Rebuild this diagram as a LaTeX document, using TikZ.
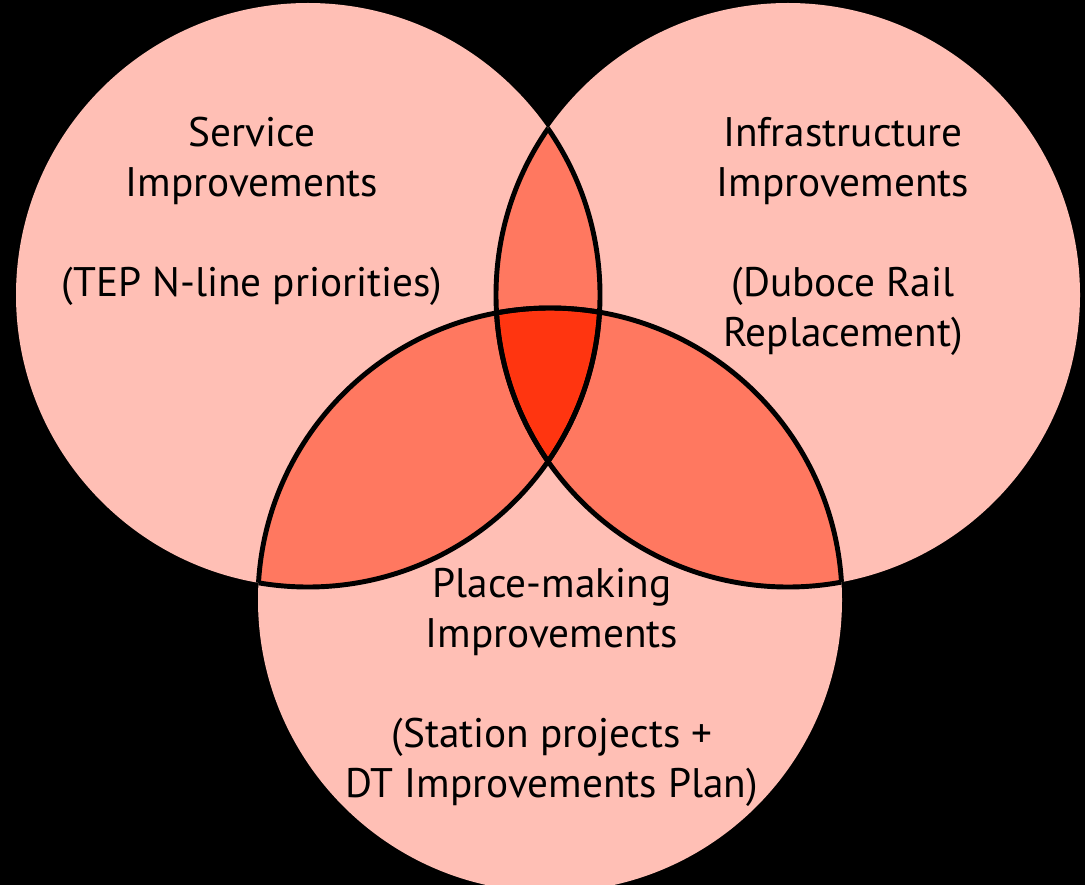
\documentclass[tikz,border=0pt]{standalone}
\usepackage{fontspec}
\setmainfont{PT Sans}
\usetikzlibrary{calc}
\definecolor{vennpink}{HTML}{FFBFB5}
\definecolor{vennpair}{HTML}{FF7860}
\definecolor{venntriple}{HTML}{FF3510}
\tikzstyle{venntext} = [align=center,text=black,inner sep=0pt,font=\fontsize{23.5}{28.45}\selectfont]
\tikzstyle{lensline} = [draw=black,line width=2.8pt]
\begin{document}
\begin{tikzpicture}[x=0.02cm,y=-0.02cm]
    % page and background
    \useasboundingbox (0,0) rectangle (1085,885);
    \clip (0,0) rectangle (1085,885);
    \fill[black] (0,0) rectangle (1085,885);

    % centres of the three circles
    \def\rad{292}
    \coordinate (S) at (308,295);
    \coordinate (I) at (788,295);
    \coordinate (P) at (550,600);

    % First the plain circles
    \foreach \c in {S,I,P}
        \fill[vennpink] (\c) circle[radius=\rad];

    % Then the pairwise overlaps
    \foreach \a/ \b in {S/I, S/P, I/P}
    {
        \begin{scope}
            \clip (\a) circle[radius=\rad];
            \fill[vennpair] (\b) circle[radius=\rad];
        \end{scope}
    }

    % the middle
    \begin{scope}
        \clip (S) circle[radius=\rad];
        \clip (I) circle[radius=\rad];
        \fill[venntriple] (P) circle[radius=\rad];
    \end{scope}

    % outline of the overlaps only
    \foreach \a/ \b in {S/I, I/S, S/P, P/S, I/P, P/I}
    {
        \begin{scope}
            \clip (\a) circle[radius=\rad];
            \draw[lensline] (\b) circle[radius=\rad];
        \end{scope}
    }

    % texts
    \node[venntext] (service) at (252,211) {Service\\Improvements\\[28.45pt](TEP N-line priorities)};
    \node[venntext] (infra) at (843,236) {Infrastructure\\Improvements\\[28.45pt](Duboce Rail\\Replacement)};
    \node[venntext] (place) at (552,687) {Place-making\\Improvements\\[28.45pt](Station projects +\\DT Improvements Plan)};
\end{tikzpicture}
\end{document}
